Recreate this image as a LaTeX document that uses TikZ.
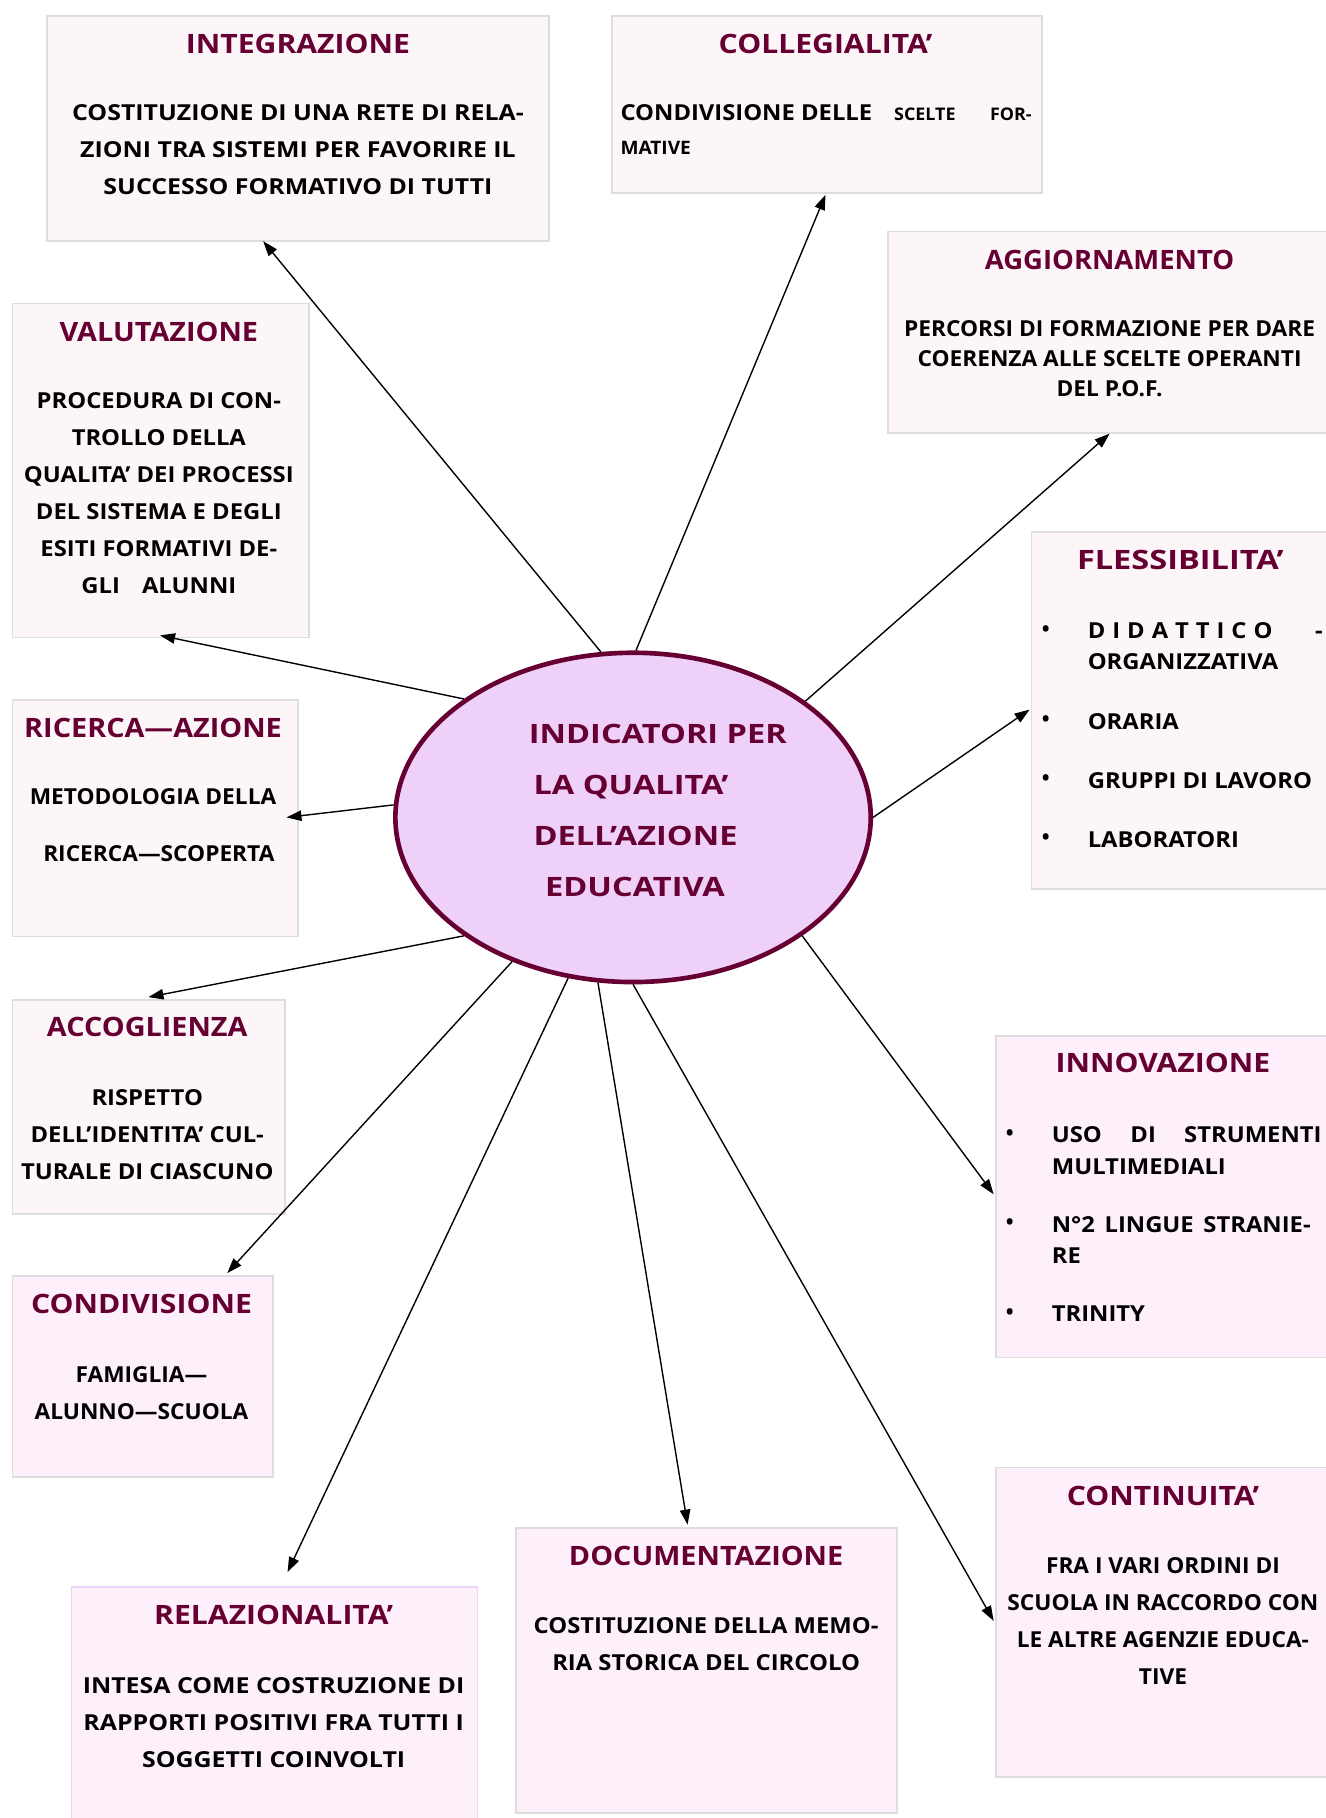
\documentclass[tikz,border=0pt]{standalone}
\usepackage{fontspec}
\setmainfont{Open Sans}
\newfontfamily\FA{Open Sans}[FakeStretch=1.03]
\newfontfamily\FB{Open Sans}[FakeStretch=1.08]
\newfontfamily\FC{Open Sans}[FakeStretch=1.13]
\newfontfamily\FE{Open Sans}[FakeStretch=1.22]
\usetikzlibrary{arrows.meta,shapes.geometric}
\definecolor{titlecol}{HTML}{660033}
\definecolor{fillA}{HTML}{FDF6F9}
\definecolor{fillB}{HTML}{FDF0FA}
\definecolor{lineA}{HTML}{DDDDDD}
\definecolor{lineB}{HTML}{EDD3F7}
\definecolor{ellfill}{HTML}{EED0F9}
\begin{document}
\begin{tikzpicture}[x=1pt,y=-1pt,
  boxA/.style={rectangle,draw=lineA,fill=fillA,line width=1.5pt,inner sep=0pt,anchor=north west},
  boxB/.style={rectangle,draw=lineA,fill=fillB,line width=1.5pt,inner sep=0pt,anchor=north west},
  ttl/.style={text=titlecol,inner sep=0pt},
  tA/.style={ttl,font=\FA\fontsize{23}{26}\selectfont\bfseries},
  tB/.style={ttl,font=\FB\fontsize{23}{26}\selectfont\bfseries},
  tC/.style={ttl,font=\FC\fontsize{23}{26}\selectfont\bfseries},
  tE/.style={ttl,font=\FE\fontsize{23}{26}\selectfont\bfseries},
  body/.style={inner sep=0pt,align=center,anchor=north},
  bA/.style={font=\FA\fontsize{19}{32}\selectfont\bfseries},
  bB/.style={font=\FB\fontsize{19}{32}\selectfont\bfseries},
  bC/.style={font=\FC\fontsize{19}{32}\selectfont\bfseries},
  itm/.style={inner sep=0pt,anchor=base west},
  bul/.style={font=\fontsize{18}{20}\selectfont\bfseries,inner sep=0pt},
  arr/.style={line width=1.2pt,-{Triangle[length=13pt,width=9pt]}}]
\useasboundingbox (0,0) rectangle (1143,1568);
\fill[white] (0,0) rectangle (1143,1568);
% boxes
\node[boxA,minimum width=433,minimum height=194] (integ) at (40,13) {};
\node[boxA,minimum width=371,minimum height=153] (colleg) at (527,13) {};
\node[boxA,minimum width=390,minimum height=174] (aggior) at (765,199) {};
\node[boxA,minimum width=256,minimum height=288] (valut) at (10,261) {};
\node[boxA,minimum width=265,minimum height=308] (fless) at (889,458) {};
\node[boxA,minimum width=246,minimum height=204] (ricerca) at (10,603) {};
\node[boxA,minimum width=235,minimum height=184] (accogl) at (10,862) {};
\node[boxB,minimum width=295,minimum height=277] (innov) at (858,893) {};
\node[boxB,minimum width=225,minimum height=173] (condiv) at (10,1100) {};
\node[boxB,minimum width=295,minimum height=267] (contin) at (858,1265) {};
\node[boxB,minimum width=329,minimum height=246] (docum) at (444,1317) {};
\node[boxB,draw=lineB,minimum width=350,minimum height=215] (relaz) at (61,1368) {};
% central ellipse
\node[ellipse,draw=titlecol,fill=ellfill,line width=4pt,minimum width=410,minimum height=284] (c) at (546,705) {};
\node[tE,anchor=base west] (c1) at (456,641.2) {INDICATORI PER};
\node[tE,anchor=base west] (c2) at (460,685.2) {LA QUALITA’};
\node[tE,anchor=base west] (c3) at (460,729.2) {DELL’AZIONE};
\node[tE,anchor=base west] (c4) at (470,773.2) {EDUCATIVA};
% INTEGRAZIONE
\node[tC] (integT) at (257,38) {INTEGRAZIONE};
\node[body,bC] (integB) at (257,90.2) {COSTITUZIONE DI UNA RETE DI RELA-\\ZIONI TRA SISTEMI PER FAVORIRE IL\\SUCCESSO FORMATIVO DI TUTTI};
% COLLEGIALITA
\node[tC] (collegT) at (712,38) {COLLEGIALITA’};
\node[itm,bB] (collegB1) at (535,103.8) {CONDIVISIONE DELLE};
\node[itm,font=\FA\fontsize{15}{18}\selectfont\bfseries] (collegB2) at (771,103.8) {SCELTE};
\node[itm,anchor=base east,font=\FA\fontsize{15}{18}\selectfont\bfseries] (collegB3) at (890,103.8) {FOR-};
\node[itm,font=\FA\fontsize{16}{18}\selectfont\bfseries] (collegB4) at (535,133) {MATIVE};
% AGGIORNAMENTO
\node[tA] (aggiorT) at (957,224) {AGGIORNAMENTO};
\node[body,font=\FA\fontsize{19}{26}\selectfont\bfseries] (aggiorB) at (957,276.2) {PERCORSI DI FORMAZIONE PER DARE\\COERENZA ALLE SCELTE OPERANTI\\DEL P.O.F.};
% VALUTAZIONE
\node[tB] (valutT) at (137,286) {VALUTAZIONE};
\node[body,bB] (valutB) at (137,338.2) {PROCEDURA DI CON-\\TROLLO DELLA\\QUALITA’ DEI PROCESSI\\DEL SISTEMA E DEGLI\\ESITI FORMATIVI DE-\\GLI\quad ALUNNI};
% FLESSIBILITA
\node[tE] (flessT) at (1018,483) {FLESSIBILITA’};
\node[bul] (fb1) at (902,544) {•};
\node[bul] (fb2) at (902,622) {•};
\node[bul] (fb3) at (902,673) {•};
\node[bul] (fb4) at (902,724) {•};
\node[itm,bB] (fi1) at (938,550.8) {D\hspace{6pt}I\hspace{6pt}D\hspace{6pt}A\hspace{6pt}T\hspace{6pt}T\hspace{6pt}I\hspace{6pt}C\hspace{6pt}O};
\node[itm,bB,anchor=base east] (fi1b) at (1141,550.8) {-};
\node[itm,bB] (fi2) at (938,577.8) {ORGANIZZATIVA};
\node[itm,bB] (fi3) at (938,628.8) {ORARIA};
\node[itm,bB] (fi4) at (938,679.8) {GRUPPI DI LAVORO};
\node[itm,bB] (fi5) at (938,730.8) {LABORATORI};
% RICERCA-AZIONE
\node[tB] (ricercaT) at (132,628) {RICERCA—AZIONE};
\node[itm,bA,anchor=base] (ricercaB1) at (132,693.8) {METODOLOGIA DELLA};
\node[itm,bA,anchor=base] (ricercaB2) at (137,742.8) {RICERCA—SCOPERTA};
% ACCOGLIENZA
\node[tB] (acoglT) at (127,886) {ACCOGLIENZA};
\node[body,bB] (acoglB) at (127,939.2) {RISPETTO\\DELL’IDENTITA’ CUL-\\TURALE DI CIASCUNO};
% INNOVAZIONE
\node[tC] (innovT) at (1003,917) {INNOVAZIONE};
\node[bul] (ib1) at (871,979) {•};
\node[bul] (ib2) at (871,1056) {•};
\node[bul] (ib3) at (871,1133) {•};
\node[itm,bB] (ii1) at (907,985.8) {USO};
\node[itm,bB,anchor=base] (ii1b) at (986,985.8) {DI};
\node[itm,bB,anchor=base east] (ii1c) at (1140,985.8) {STRUMENTI};
\node[itm,bB] (ii2) at (907,1012.8) {MULTIMEDIALI};
\node[itm,bB] (ii3) at (907,1062.8) {N°2\hspace{3pt} LINGUE\hspace{3pt} STRANIE-};
\node[itm,bB] (ii4) at (907,1089.8) {RE};
\node[itm,bB] (ii5) at (907,1139.8) {TRINITY};
% CONDIVISIONE
\node[tC] (condivT) at (122,1125) {CONDIVISIONE};
\node[body,bA] (condivB) at (122,1178.2) {FAMIGLIA—\\ALUNNO—SCUOLA};
% CONTINUITA
\node[tC] (continT) at (1003,1290) {CONTINUITA’};
\node[body,bA] (continB) at (1003,1343.2) {FRA I VARI ORDINI DI\\SCUOLA IN RACCORDO CON\\LE ALTRE AGENZIE EDUCA-\\TIVE};
% DOCUMENTAZIONE
\node[tB] (documT) at (609,1342) {DOCUMENTAZIONE};
\node[body,bB] (documB) at (609,1395.2) {COSTITUZIONE DELLA MEMO-\\RIA STORICA DEL CIRCOLO};
% RELAZIONALITA
\node[tC] (relazT) at (236,1393) {RELAZIONALITA’};
\node[body,bC] (relazB) at (236,1446.2) {INTESA COME COSTRUZIONE DI\\RAPPORTI POSITIVI FRA TUTTI I\\SOGGETTI COINVOLTI};
% arrow tips
\coordinate (tInteg) at (227,208);
\coordinate (tColleg) at (712,168);
\coordinate (tAggior) at (957,374);
\coordinate (tValut) at (138,548);
\coordinate (tFless) at (888,612);
\coordinate (tRicerca) at (247,705);
\coordinate (tAccogl) at (128,860);
\coordinate (tInnov) at (857,1030);
\coordinate (tCondiv) at (196,1098);
\coordinate (tRelaz) at (248,1356);
\coordinate (tDocum) at (593,1315);
\coordinate (tContin) at (857,1398);
% connectors
\draw[arr] (c.101.8) -- (tInteg);
\draw[arr] (c.89.6) -- (tColleg);
\draw[arr] (c.34.5) -- (tAggior);
\draw[arr] (c.145) -- (tValut);
\draw[arr] (c.0) -- (tFless);
\draw[arr] (c.177) -- (tRicerca);
\draw[arr] (c.215.6) -- (tAccogl);
\draw[arr] (c.-35) -- (tInnov);
\draw[arr] (c.230.3) -- (tCondiv);
\draw[arr] (c.248.9) -- (tRelaz);
\draw[arr] (c.258.3) -- (tDocum);
\draw[arr] (c.270.4) -- (tContin);
\end{tikzpicture}
\end{document}
